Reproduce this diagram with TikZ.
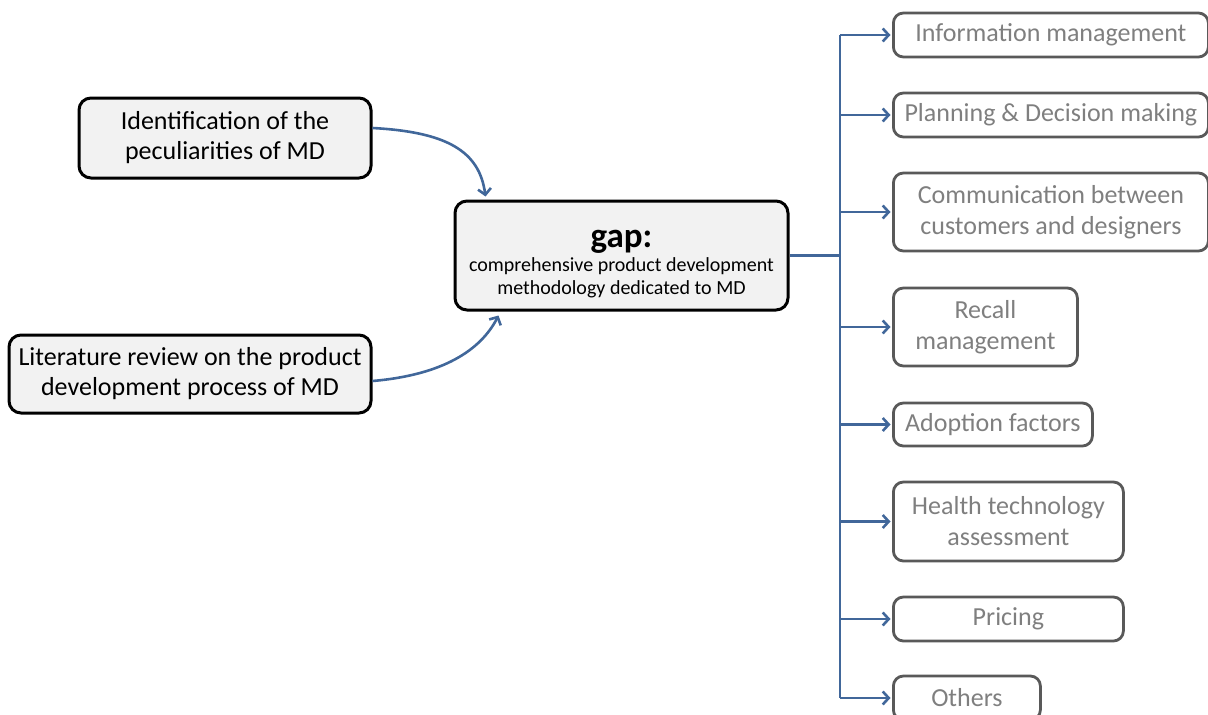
\documentclass[tikz,border=0pt]{standalone}
\usepackage{fontspec}
\setmainfont{Carlito}
\usetikzlibrary{arrows.meta}
\definecolor{linkblue}{HTML}{41679A}
\definecolor{boxgray}{HTML}{F2F2F2}
\definecolor{itemgray}{HTML}{7F7F7F}
\definecolor{itemframe}{HTML}{595959}
\begin{document}
\begin{tikzpicture}[x=1pt,y=-1pt,
    source/.style={draw=black,line width=3pt,fill=boxgray,rounded corners=12pt,
        align=center,inner sep=0pt,font=\fontsize{26}{30}\selectfont},
    item/.style={draw=itemframe,line width=2.8pt,rounded corners=10pt,align=center,
        inner sep=0pt,anchor=west,text=itemgray,font=\fontsize{26}{31}\selectfont},
    bus/.style={draw=linkblue,line width=2.6pt},
    link/.style={bus,-{Straight Barb[length=6pt,width=13pt,line width=2.6pt]}}]
    \useasboundingbox (0,0) rectangle (1208,715);
    \clip (0,0) rectangle (1208,715);
    % inputs and gap
    \node[source,minimum width=292pt,minimum height=80pt] (ident) at (225,138) {Identification of the\\peculiarities of MD};
    \node[source,minimum width=362pt,minimum height=78pt] (lit) at (190,374) {Literature review on the product\\development process of MD};
    \node[source,minimum width=333pt,minimum height=109pt] (gap) at (621.5,255.5) {};
    \node[align=center,inner sep=0pt,font=\fontsize{20}{23}\selectfont] (gaptext) at ([yshift=-9pt]gap.center)
        {{\fontsize{35}{36}\selectfont\bfseries gap:}\\[1pt]comprehensive product development\\methodology dedicated to MD};
    \draw[link] ([yshift=10pt]ident.east) .. controls +(75,4) and +(-6,-45) .. ([xshift=32pt,yshift=3pt]gap.north west);
    \draw[link] ([yshift=-7pt]lit.east) .. controls +(70,-6) and +(-18,35) .. ([xshift=45pt,yshift=-4pt]gap.south west);
    % topics
    \node[item,minimum width=315pt,minimum height=44pt] (info) at (892,35) {Information management};
    \node[item,minimum width=315pt,minimum height=44pt] (plan) at (892,115) {Planning \& Decision making};
    \node[item,minimum width=315pt,minimum height=78pt] (comm) at (892,212) {Communication between\\customers and designers};
    \node[item,minimum width=184pt,minimum height=78pt] (recall) at (892,327) {Recall\\management};
    \node[item,minimum width=199pt,minimum height=43pt] (adopt) at (892,424.5) {Adoption factors};
    \node[item,minimum width=230pt,minimum height=79pt] (hta) at (892,521.5) {Health technology\\assessment};
    \node[item,minimum width=230pt,minimum height=44pt] (price) at (892,619) {Pricing};
    \node[item,minimum width=147pt,minimum height=44pt] (others) at (892,698) {Others};
    \coordinate (split) at (840,255.5);
    \draw[bus] (gap.east) -- (split);
    \draw[bus] (split |- info.west) -- (split |- others.west);
    \foreach \t in {info,plan,comm,recall,adopt,hta,price,others}
        \draw[link] (split |- \t.west) -- ([xshift=-1.5pt]\t.west);
\end{tikzpicture}
\end{document}
